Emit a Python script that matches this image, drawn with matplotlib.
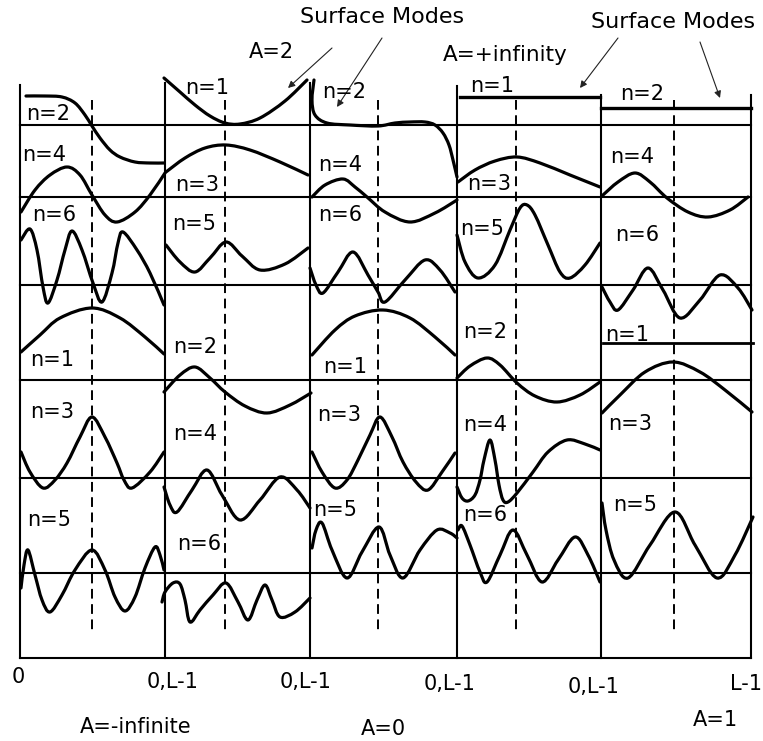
import numpy as np
import matplotlib
matplotlib.use("Agg")
import matplotlib.pyplot as plt
from matplotlib.path import Path
from matplotlib.patches import PathPatch

plt.rcParams['font.family'] = ['DejaVu Sans']
plt.rcParams['lines.scale_dashes'] = False

# ---- data (pixel units of the original figure) ----
# column borders and dashed centre lines
col_edges = [20, 165, 310, 457, 601, 751]
col_tops = [85, 83, 83, 86, 95, 95]
centre_x = [92, 225, 378, 516, 674]
row_lines = [125, 197, 285, 380, 478, 573, 658]

# column 1 (A=-infinite)
c1_n2 = [(26, 96), (45, 96), (62, 97), (75, 103), (85, 115), (92, 126), (100, 138),
         (110, 150), (120, 157), (135, 162), (150, 163), (164, 163)]
c1_n4 = [(21, 212), (35, 190), (50, 175), (67, 167), (80, 175), (92, 195), (105, 215),
         (117, 222), (135, 212), (150, 195), (165, 173)]
c1_n6 = [(21, 240), (30, 229), (37, 250), (43, 287), (48, 303), (57, 280), (65, 250),
         (72, 231), (82, 250), (93, 283), (102, 302), (112, 273), (118, 243), (123, 232),
         (137, 250), (150, 273), (164, 305)]
c1_n1 = [(21, 352), (40, 335), (60, 318), (92, 308), (120, 318), (145, 337), (164, 354)]
c1_n3 = [(21, 452), (30, 472), (43, 488), (55, 480), (67, 463), (80, 437), (92, 417),
         (105, 437), (117, 463), (124, 480), (132, 488), (150, 472), (164, 452)]
c1_n5 = [(21, 588), (24, 565), (28, 550), (35, 575), (42, 600), (50, 612), (62, 595),
         (75, 570), (92, 550), (105, 570), (115, 597), (125, 611), (135, 597), (145, 568),
         (155, 547), (160, 555), (164, 570)]

# column 2
c2_n1 = [(164, 78), (180, 92), (195, 105), (210, 116), (225, 123), (240, 124), (260, 118),
         (285, 101), (307, 80)]
c2_n3 = [(166, 172), (185, 158), (205, 148), (226, 145), (250, 150), (280, 162), (308, 175)]
c2_n5 = [(166, 245), (180, 262), (195, 272), (210, 258), (226, 242), (242, 256), (260, 270),
         (285, 264), (308, 248)]
c2_n2 = [(164, 392), (180, 375), (195, 367), (210, 378), (225, 392), (245, 406), (267, 413),
         (290, 405), (311, 393)]
c2_n4 = [(164, 487), (170, 505), (177, 512), (192, 490), (207, 470), (222, 495), (240, 520),
         (260, 500), (280, 477), (297, 490), (310, 508)]
c2_n6 = [(162, 602), (165, 592), (173, 583), (180, 584), (185, 600), (190, 622), (200, 610),
         (213, 595), (226, 583), (238, 602), (248, 620), (257, 600), (265, 585), (272, 600),
         (280, 617), (295, 612), (310, 598)]

# column 3 (A=0)
c3_n2 = [(314, 80), (312, 100), (315, 115), (327, 123), (350, 125), (378, 126), (395, 123),
         (410, 122), (425, 122), (435, 125), (443, 133), (449, 145), (453, 160), (457, 177)]
c3_n4 = [(312, 197), (325, 185), (343, 179), (355, 187), (367, 197), (385, 212), (410, 222),
         (435, 213), (457, 200)]
c3_n6 = [(310, 268), (316, 285), (323, 293), (338, 272), (353, 252), (368, 275), (378, 292),
         (385, 302), (405, 280), (425, 260), (440, 270), (455, 292)]
c3_n1 = [(312, 355), (335, 330), (355, 316), (383, 310), (410, 318), (435, 337), (455, 355)]
c3_n3 = [(312, 452), (322, 472), (335, 488), (347, 480), (358, 460), (370, 435), (380, 417),
         (392, 437), (403, 462), (416, 482), (428, 490), (442, 472), (455, 453)]
c3_n5 = [(312, 548), (316, 530), (322, 523), (332, 550), (347, 578), (362, 552), (379, 527),
         (390, 555), (403, 578), (420, 550), (437, 530), (450, 533), (457, 538)]

# column 4
c4_n1 = [(460, 97), (600, 97)]
c4_n3 = [(458, 182), (475, 170), (495, 161), (517, 157), (540, 163), (570, 175), (600, 187)]
c4_n5 = [(457, 235), (465, 262), (478, 278), (495, 265), (510, 230), (520, 208), (527, 205),
         (535, 215), (548, 245), (560, 272), (570, 278), (585, 265), (600, 243)]
c4_n2 = [(457, 378), (470, 366), (487, 358), (500, 365), (517, 383), (535, 396), (557, 402),
         (580, 395), (600, 382)]
c4_n4 = [(457, 487), (462, 498), (468, 501), (475, 495), (480, 480), (484, 460), (490, 440),
         (495, 460), (499, 485), (503, 500), (508, 502), (517, 493), (533, 472), (548, 452),
         (567, 440), (585, 444), (600, 450)]
c4_n6 = [(458, 530), (462, 526), (470, 545), (480, 572), (487, 582), (500, 555), (513, 530),
         (527, 555), (542, 582), (558, 560), (575, 537), (588, 555), (600, 582)]

# column 5 (A=1)
c5_n2 = [(601, 108), (751, 108)]
c5_n4 = [(603, 195), (618, 182), (635, 173), (650, 182), (667, 198), (688, 212), (708, 217),
         (730, 210), (748, 197)]
c5_n6 = [(602, 287), (610, 302), (618, 310), (633, 290), (648, 268), (663, 290), (680, 318),
         (700, 300), (720, 275), (738, 288), (752, 310)]
c5_n1 = [(603, 343), (753, 343)]
c5_n3 = [(602, 413), (620, 395), (645, 372), (673, 362), (700, 372), (725, 390), (752, 412)]
c5_n5 = [(602, 503), (606, 530), (614, 560), (628, 578), (650, 545), (675, 512), (695, 545),
         (717, 578), (735, 555), (753, 517)]

wavy = [c1_n2, c1_n4, c1_n6, c1_n1, c1_n3, c1_n5,
        c2_n1, c2_n3, c2_n5, c2_n2, c2_n4, c2_n6,
        c3_n2, c3_n4, c3_n6, c3_n1, c3_n3, c3_n5,
        c4_n3, c4_n5, c4_n2, c4_n4, c4_n6,
        c5_n4, c5_n6, c5_n3, c5_n5]
flat = [c4_n1, c5_n2]
flat_thin = [c5_n1]

# mode labels
mode_labels = ['n=2', 'n=4', 'n=6', 'n=1', 'n=3', 'n=5',
               'n=1', 'n=3', 'n=5', 'n=2', 'n=4', 'n=6',
               'n=2', 'n=4', 'n=6', 'n=1', 'n=3', 'n=5',
               'n=1', 'n=3', 'n=5', 'n=2', 'n=4', 'n=6',
               'n=2', 'n=4', 'n=6', 'n=1', 'n=3', 'n=5']
mode_label_xy = [(26, 112), (22, 153), (32, 213), (30, 358), (30, 410), (27, 518),
                 (185, 86), (175, 183), (172, 222), (173, 345), (173, 432), (177, 542),
                 (322, 90), (318, 163), (318, 213), (323, 365), (317, 413), (313, 508),
                 (470, 84), (467, 182), (460, 227), (463, 330), (463, 423), (463, 513),
                 (620, 92), (610, 155), (615, 233), (605, 333), (608, 422), (613, 503)]

tick_labels = ['0', '0,L-1', '0,L-1', '0,L-1', '0,L-1', 'L-1']
tick_label_xy = [(18, 675), (173, 680), (306, 680), (450, 682), (594, 685), (746, 682)]

bottom_titles = ['A=-infinite', 'A=0', 'A=1']
bottom_title_xy = [(136, 725), (383, 727), (715, 718)]

top_titles = ['Surface Modes', 'A=2', 'A=+infinity', 'Surface Modes']
top_title_xy = [(382, 15), (271, 50), (505, 53), (673, 20)]
top_title_size = [16, 15, 15.5, 16]

arrows_tail = [(332, 48), (382, 38), (618, 38), (700, 42)]
arrows_head = [(288, 88), (337, 107), (580, 88), (720, 98)]


def smooth_path(pts):
    # Catmull-Rom through the read points, drawn as cubic Bezier segments
    P = np.asarray(pts, float)
    n = len(P)
    verts = [P[0]]
    codes = [Path.MOVETO]
    for i in range(n - 1):
        p0 = P[i - 1] if i > 0 else P[i]
        p1 = P[i]
        p2 = P[i + 1]
        p3 = P[i + 2] if i + 2 < n else P[i + 1]
        verts += [p1 + (p2 - p0) / 6, p2 - (p3 - p1) / 6, p2]
        codes += [Path.CURVE4] * 3
    return Path(verts, codes)


fig = plt.figure(figsize=(7.63, 7.41), dpi=100)
ax = fig.add_axes([0, 0, 1, 1])
ax.set_xlim(0, 763)
ax.set_ylim(741, 0)
ax.axis('off')

# grid frame
for y in row_lines:
    ax.plot([col_edges[0], col_edges[-1]], [y, y], color='black', lw=1.5, zorder=1)
for x, top in zip(col_edges, col_tops):
    ax.plot([x, x], [top, row_lines[-1]], color='black', lw=1.5, zorder=1)
for x in centre_x:
    ax.plot([x, x], [100, 632], color='black', lw=1.4, dashes=(7, 4), zorder=1)

# curves
for c in wavy:
    ax.add_patch(PathPatch(smooth_path(c), fill=False, lw=2.3, ec='black',
                           joinstyle='round', capstyle='round', zorder=3))
for c in flat:
    xs, ys = zip(*c)
    ax.plot(xs, ys, color='black', lw=2.4, zorder=3)
for c in flat_thin:
    xs, ys = zip(*c)
    ax.plot(xs, ys, color='black', lw=2.0, zorder=3)

fs = 15
# small offset so that the glyphs (not the text box) sit on the read centre
dy = 2
for t, (x, y) in zip(mode_labels, mode_label_xy):
    ax.text(x, y + dy, t, ha='left', va='center', fontsize=fs, zorder=4)
for t, (x, y) in zip(tick_labels, tick_label_xy):
    ax.text(x, y + dy, t, ha='center', va='center', fontsize=fs)
for t, (x, y) in zip(bottom_titles, bottom_title_xy):
    ax.text(x, y + dy, t, ha='center', va='center', fontsize=fs)
for t, (x, y), s in zip(top_titles, top_title_xy, top_title_size):
    ax.text(x, y + dy, t, ha='center', va='center', fontsize=s)

for tail, head in zip(arrows_tail, arrows_head):
    ax.annotate('', xy=head, xytext=tail,
                arrowprops=dict(arrowstyle='-|>', lw=0.8, color='#222222',
                                mutation_scale=10, shrinkA=0, shrinkB=0))

fig.savefig('out.png', dpi=100)
